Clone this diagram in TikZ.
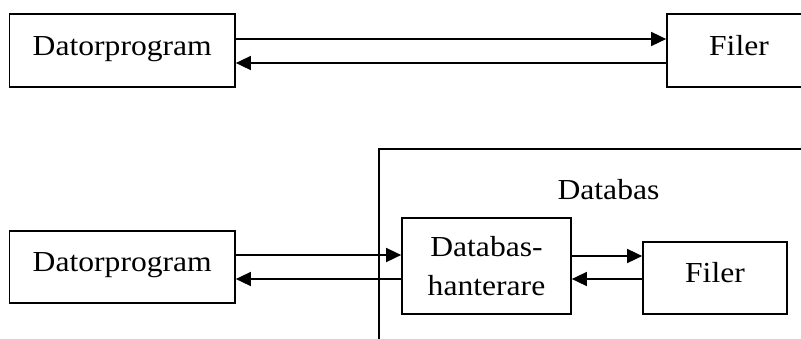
\documentclass[tikz,border=0pt]{standalone}
\usepackage{fontspec}
\setmainfont{Liberation Serif}[FakeStretch=1.09]
\usetikzlibrary{arrows.meta,calc}
\tikzset{
  box/.style={draw, line width=1.7pt, rectangle, inner sep=0pt,
    font=\fontsize{29}{39}\selectfont},
  onebox/.style={box, text height=19pt, text depth=10pt},
  arr/.style={line width=1.6pt, -{Triangle[length=15pt,width=14pt]}},
  plain/.style={line width=1.6pt}
}
\begin{document}
\begin{tikzpicture}[x=1pt,y=-1pt]
\useasboundingbox (0,0) rectangle (801,338);
\clip (0,0) rectangle (801,338);
% top row
\node[onebox, minimum width=225.5pt, minimum height=73pt] (dp1) at (122.25,50.5) {Datorprogram};
\node[onebox, minimum width=144pt, minimum height=73pt] (f1) at (739,50.5) {Filer};
\draw[arr] ($(dp1.east)+(0,-11.5)$) -- ($(f1.west)+(0,-11.5)$);
\draw[arr] ($(f1.west)+(0,12.5)$) -- ($(dp1.east)+(0,12.5)$);
% bottom row
\coordinate (cb) at (379,345);
\coordinate (cr) at (815,149);
\draw[plain] (cb) |- (cr);
\node[font=\fontsize{29}{39}\selectfont, anchor=base] (lbl) at (608.5,199.3) {Databas};
\node[onebox, minimum width=225.5pt, minimum height=72pt] (dp2) at (122.25,267) {Datorprogram};
\node[box, align=center, minimum width=169pt, minimum height=96pt] (dbh) at (486.5,266) {Databas-\\hanterare};
\node[onebox, minimum width=144pt, minimum height=72pt] (f2) at (715,278) {Filer};
\coordinate (a1) at ($(dp2.east)+(0,-12)$);
\coordinate (a2) at ($(dp2.east)+(0,12)$);
\draw[arr] (a1) -- (a1 -| dbh.west);
\draw[arr] (a2 -| dbh.west) -- (a2);
\coordinate (b1) at ($(dbh.east)+(0,-10)$);
\coordinate (b2) at ($(dbh.east)+(0,13)$);
\draw[arr] (b1) -- (b1 -| f2.west);
\draw[arr] (b2 -| f2.west) -- (b2);
\end{tikzpicture}
\end{document}
